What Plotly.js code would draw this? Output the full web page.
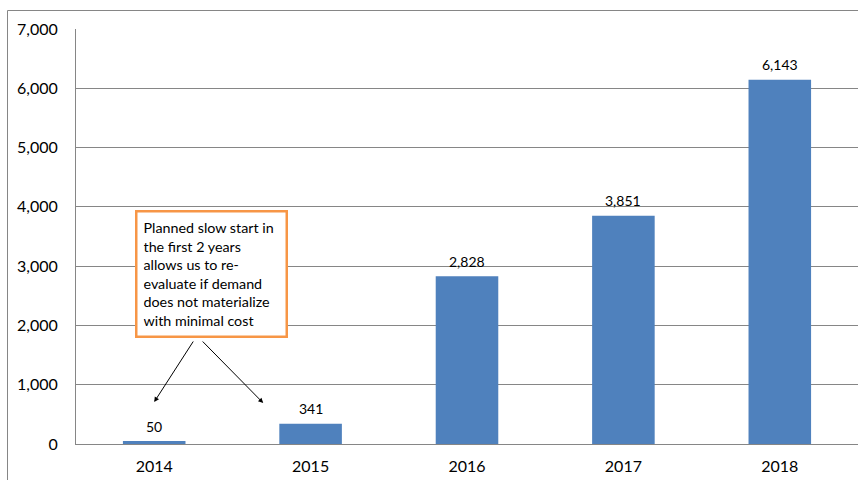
<!DOCTYPE html>
<html>
<head>
<meta charset="utf-8">
<script src="https://cdn.plot.ly/plotly-3.0.1.min.js"></script>
<style>html,body{margin:0;padding:0;background:#fff;}#chart{width:858px;height:480px;}</style>
</head>
<body>
<div id="chart"></div>
<script>
const years = ['2014', '2015', '2016', '2017', '2018'];
const values = [50, 341, 2828, 3851, 6143];
const yTicks = [0, 1000, 2000, 3000, 4000, 5000, 6000, 7000];
const noteText = 'Planned slow start in<br>the first 2 years<br>allows us to re-<br>evaluate if demand<br>does not materialize<br>with minimal cost';

const W = 858, H = 480, L = 76, R = 0, T = 29, B = 36;
const pw = W - L - R, ph = H - T - B;
const px = x => (x - L) / pw;
const py = y => (H - B - y) / ph;
const font = "Lato, 'Open Sans', 'Liberation Sans', sans-serif";

const trace = {
  type: 'bar',
  x: years,
  y: values,
  marker: {color: '#4f81bd'},
  hoverinfo: 'skip'
};

const labelAnns = years.map((yr, i) => ({
  x: i, y: values[i], xref: 'x', yref: 'y',
  text: values[i].toLocaleString('en-US'),
  showarrow: false, xanchor: 'center', yanchor: 'middle', yshift: 15,
  font: {family: font, size: 14, color: '#000'}
}));

const layout = {
  width: W, height: H,
  margin: {l: L, r: R, t: T, b: B},
  paper_bgcolor: '#fff', plot_bgcolor: '#fff',
  showlegend: false,
  bargap: 0.6,
  font: {family: font, color: '#000'},
  xaxis: {
    type: 'category',
    range: [-0.5, years.length - 0.5],
    showline: true, linecolor: '#868686', linewidth: 1,
    showgrid: false, ticks: '',
    ticklabelstandoff: 8,
    tickfont: {family: font, size: 16, color: '#000'},
    fixedrange: true
  },
  yaxis: {
    range: [0, 7000],
    tickvals: yTicks,
    ticktext: yTicks.map(v => v.toLocaleString('en-US')),
    showline: true, linecolor: '#868686', linewidth: 1,
    showgrid: true, gridcolor: '#868686', gridwidth: 1,
    zeroline: false, ticks: '',
    ticklabelstandoff: 14,
    tickfont: {family: font, size: 16, color: '#000'},
    fixedrange: true
  },
  shapes: [{
    type: 'rect', xref: 'paper', yref: 'paper',
    x0: px(7.5), x1: px(870), y0: py(490), y1: py(10.5),
    line: {color: '#868686', width: 1}, fillcolor: 'rgba(0,0,0,0)'
  }],
  annotations: labelAnns.concat([
    {
      xref: 'paper', yref: 'paper',
      x: px(211.5), y: py(274), xanchor: 'center', yanchor: 'middle',
      text: noteText, showarrow: false, align: 'left', valign: 'middle',
      width: 136, height: 111,
      font: {family: font, size: 14.3, color: '#000'},
      bordercolor: '#f79646', borderwidth: 2.5, borderpad: 6, bgcolor: '#fff'
    },
    {
      x: 0, y: (H - B - 402) / ph * 7000, xref: 'x', yref: 'y',
      text: '', showarrow: true, arrowhead: 2, arrowsize: 1, arrowwidth: 1,
      arrowcolor: '#000', ax: 40, ay: -62
    },
    {
      x: (262 - 153) / 156.4, y: (H - B - 403) / ph * 7000, xref: 'x', yref: 'y',
      text: '', showarrow: true, arrowhead: 2, arrowsize: 1, arrowwidth: 1,
      arrowcolor: '#000', ax: -62, ay: -63
    }
  ])
};

Plotly.newPlot('chart', [trace], layout, {displayModeBar: false, staticPlot: true});
</script>
</body>
</html>
